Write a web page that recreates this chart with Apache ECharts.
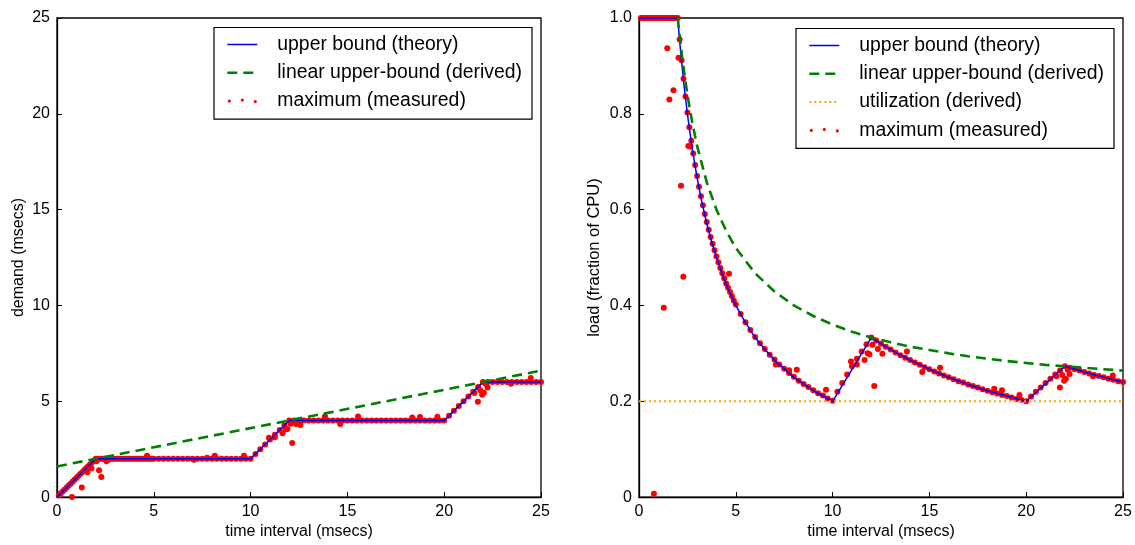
<!DOCTYPE html>
<html>
<head>
<meta charset="utf-8">
<script src="https://cdn.jsdelivr.net/npm/echarts@6/dist/echarts.min.js"></script>
<style>
  html, body { margin: 0; padding: 0; background: #fff; }
  #chart { width: 1135px; height: 545px; }
</style>
</head>
<body>
<div id="chart"></div>
<script>
// ---------- DATA ----------
// x-axis ticks (both panels)
const timeTicks = [0, 5, 10, 15, 20, 25];
const demandTicks = [0, 5, 10, 15, 20, 25];
const loadTicks = [0, 0.2, 0.4, 0.6, 0.8, 1.0];

// Left panel: upper bound (theory), demand vs time
const boundTime   = [0, 2, 10, 12, 20, 22, 25];
const boundDemand = [0, 2, 2, 4, 4, 6, 6];
// Left panel: linear upper-bound (derived)
const linearTime   = [0, 25];
const linearDemand = [1.6, 6.6];

// Right panel: upper bound (theory), load vs time
const boundLoadTime = [0, 2, 2.1, 2.2, 2.35, 2.5, 2.75, 3, 3.25, 3.5, 3.75, 4, 4.5, 5, 5.5, 6, 6.5, 7, 8, 9, 10,
  12, 13, 14, 15, 16, 17, 18, 19, 20, 22, 23, 24, 25];
const boundLoad = [1, 1, 0.952, 0.909, 0.851, 0.8, 0.727, 0.667, 0.615, 0.571, 0.533, 0.5, 0.444, 0.4, 0.364, 0.333, 0.308, 0.286, 0.25, 0.222, 0.2,
  0.333, 0.308, 0.286, 0.267, 0.25, 0.235, 0.222, 0.211, 0.2, 0.273, 0.261, 0.25, 0.24];
// Right panel: linear upper-bound (derived)
const linearLoadTime = [2, 2.25, 2.5, 2.75, 3, 3.5, 4, 4.5, 5, 6, 7, 8, 9, 10, 11, 12, 13, 14, 15, 16, 17, 18, 19, 20, 21, 22, 23, 24, 25];
const linearLoad = [1, 0.911, 0.84, 0.782, 0.733, 0.657, 0.6, 0.556, 0.52, 0.467, 0.429, 0.4, 0.378, 0.36, 0.345, 0.333,
  0.323, 0.314, 0.307, 0.3, 0.294, 0.289, 0.284, 0.28, 0.276, 0.273, 0.270, 0.267, 0.264];
// Right panel: utilization (derived)
const utilTime = [0, 25];
const utilLoad = [0.2, 0.2];

// maximum (measured): time, demand (left panel), load (right panel)
const measTime = [
  0.1, 0.2, 0.3, 0.4, 0.5, 0.6, 0.7, 0.8, 0.9, 1.0, 1.1, 1.2, 1.3, 1.4, 1.5, 1.6, 1.7, 1.8, 1.9, 2.0,
  2.1, 2.2, 2.3, 2.4, 2.5, 2.6, 2.7, 2.8, 2.9, 3.0, 3.1, 3.2, 3.3, 3.4, 3.5, 3.6, 3.7, 3.8, 3.9, 4.0,
  4.1, 4.2, 4.3, 4.4, 4.5, 4.6, 4.7, 4.8, 4.9, 5.0,
  5.25, 5.5, 5.75, 6, 6.25, 6.5, 6.75, 7, 7.25, 7.5, 7.75, 8, 8.25, 8.5, 8.75, 9, 9.25, 9.5, 9.75, 10,
  10.25, 10.5, 10.75, 11, 11.25, 11.5, 11.75, 12,
  12.25, 12.5, 12.75, 13, 13.25, 13.5, 13.75, 14, 14.25, 14.5, 14.75, 15, 15.25, 15.5, 15.75, 16,
  16.25, 16.5, 16.75, 17, 17.25, 17.5, 17.75, 18, 18.25, 18.5, 18.75, 19, 19.25, 19.5, 19.75, 20,
  20.25, 20.5, 20.75, 21, 21.25, 21.5, 21.75, 22,
  22.25, 22.5, 22.75, 23, 23.25, 23.5, 23.75, 24, 24.25, 24.5, 24.75, 25,
  0.77, 1.28, 1.46, 1.57, 1.78, 2.04, 2.17, 2.29, 2.55, 2.66, 4.65, 7.07, 7.75, 8.15, 9.66,
  10.95, 11.25, 11.65, 11.81, 11.90, 12.06, 12.34, 12.57, 12.15, 13.84, 14.63, 15.55,
  18.35, 18.75, 19.65, 21.56, 21.74, 21.86, 21.96, 22.05, 22.24, 22.15, 23.45, 24.47
];
const measDemand = [
  0.1, 0.2, 0.3, 0.4, 0.5, 0.6, 0.7, 0.8, 0.9, 1.0, 1.1, 1.2, 1.3, 1.4, 1.5, 1.6, 1.7, 1.8, 1.9, 2.0,
  2, 2, 2, 2, 2, 2, 2, 2, 2, 2, 2, 2, 2, 2, 2, 2, 2, 2, 2, 2,
  2, 2, 2, 2, 2, 2, 2, 2, 2, 2,
  2, 2, 2, 2, 2, 2, 2, 2, 2, 2, 2, 2, 2, 2, 2, 2, 2, 2, 2, 2,
  2.25, 2.5, 2.75, 3, 3.25, 3.5, 3.75, 4,
  4, 4, 4, 4, 4, 4, 4, 4, 4, 4, 4, 4, 4, 4, 4, 4,
  4, 4, 4, 4, 4, 4, 4, 4, 4, 4, 4, 4, 4, 4, 4, 4,
  4.25, 4.5, 4.75, 5, 5.25, 5.5, 5.75, 6,
  6, 6, 6, 6, 6, 6, 6, 6, 6, 6, 6, 6,
  0.005, 0.50, 1.37, 1.30, 1.51, 1.87, 1.40, 1.05, 1.87, 1.95, 2.16, 1.95, 2.05, 2.16, 2.16,
  3.10, 3.12, 3.33, 3.54, 3.55, 3.83, 3.81, 3.76, 2.82, 4.21, 3.82, 4.20,
  4.15, 4.18, 4.19, 5.43, 4.98, 5.57, 5.34, 5.45, 5.72, 5.90, 5.91, 6.21
];
const measLoad = [
  1, 1, 1, 1, 1, 1, 1, 1, 1, 1, 1, 1, 1, 1, 1, 1, 1, 1, 1, 1,
  0.955, 0.912, 0.873, 0.836, 0.803, 0.772, 0.744, 0.717, 0.693, 0.670, 0.648, 0.628, 0.609, 0.591, 0.574, 0.558, 0.543, 0.529, 0.515, 0.502,
  0.490, 0.478, 0.467, 0.457, 0.446, 0.437, 0.428, 0.419, 0.410, 0.402,
  0.382, 0.365, 0.349, 0.334, 0.321, 0.309, 0.297, 0.287, 0.277, 0.268, 0.259, 0.251, 0.243, 0.236, 0.230, 0.223, 0.217, 0.212, 0.206, 0.201,
  0.220, 0.238, 0.256, 0.273, 0.289, 0.304, 0.319, 0.333,
  0.327, 0.320, 0.314, 0.308, 0.302, 0.296, 0.291, 0.286, 0.281, 0.276, 0.271, 0.267, 0.262, 0.258, 0.254, 0.250,
  0.246, 0.242, 0.239, 0.235, 0.232, 0.229, 0.225, 0.222, 0.219, 0.216, 0.213, 0.211, 0.208, 0.205, 0.203, 0.200,
  0.210, 0.220, 0.229, 0.238, 0.247, 0.256, 0.264, 0.273,
  0.270, 0.267, 0.264, 0.261, 0.258, 0.255, 0.253, 0.250, 0.247, 0.245, 0.242, 0.240,
  0.007, 0.395, 0.937, 0.830, 0.849, 0.917, 0.650, 0.460, 0.733, 0.732, 0.466, 0.277, 0.265, 0.266, 0.224,
  0.283, 0.277, 0.286, 0.300, 0.298, 0.318, 0.309, 0.299, 0.232, 0.304, 0.261, 0.270,
  0.226, 0.223, 0.213, 0.252, 0.229, 0.255, 0.243, 0.247, 0.257, 0.266, 0.252, 0.254
];

const NAME_BOUND = 'upper bound (theory)';
const NAME_LINEAR = 'linear upper-bound (derived)';
const NAME_UTIL = 'utilization (derived)';
const NAME_MEAS = 'maximum (measured)';

// ---------- STYLES ----------
const FONT = "'Liberation Sans', Arial, Helvetica, sans-serif";
const STYLE = {
  [NAME_BOUND]:  { color: '#0000ff', width: 1.5, type: 'solid' },
  [NAME_LINEAR]: { color: '#008000', width: 2.6, type: [10, 6] },
  [NAME_UTIL]:   { color: '#ffa500', width: 2, type: [2, 3] }
};

// ---------- BUILD ----------
const zip = (xs, ys) => xs.map((x, i) => [x, ys[i]]);

function xAxisCfg(gridIndex) {
  return {
    type: 'value', gridIndex, min: timeTicks[0], max: timeTicks[timeTicks.length - 1],
    interval: timeTicks[1] - timeTicks[0],
    name: 'time interval (msecs)', nameLocation: 'middle', nameGap: 20,
    nameTextStyle: { fontFamily: FONT, fontSize: 16, color: '#000' },
    axisLine: { show: true, onZero: false, lineStyle: { color: '#000', width: 1.3 } },
    axisTick: { show: true, inside: true, length: 5, lineStyle: { color: '#000', width: 1 } },
    axisLabel: { fontFamily: FONT, fontSize: 16, color: '#000', margin: 6 },
    splitLine: { show: false }
  };
}

const dotsIcon = 'path://M0,0L0.01,0M30,14L29.99,14M0.4,7a1.6,1.6 0 1,0 3.2,0a1.6,1.6 0 1,0 -3.2,0ZM13.4,6a1.6,1.6 0 1,0 3.2,0a1.6,1.6 0 1,0 -3.2,0ZM26.4,7.5a1.6,1.6 0 1,0 3.2,0a1.6,1.6 0 1,0 -3.2,0Z';

function legendItem(n) {
  if (n === NAME_MEAS) return { name: n, icon: dotsIcon };
  const s = STYLE[n];
  return {
    name: n,
    itemStyle: { color: 'rgba(0,0,0,0)', borderWidth: 0, opacity: 0 },
    lineStyle: { color: s.color, width: s.width, type: s.type, opacity: 1 }
  };
}

function legendCfg(left, top, names) {
  return {
    orient: 'vertical', left, top,
    data: names.map(legendItem),
    itemWidth: 30, itemHeight: 14, itemGap: 8.3,
    padding: [7, 10, 8, 12],
    borderColor: '#000', borderWidth: 1.2, backgroundColor: '#fff',
    selectedMode: false,
    textStyle: { fontFamily: FONT, fontSize: 19.4, color: '#000', lineHeight: 20, padding: [0, 0, 0, 15] }
  };
}

function lineSeries(name, xi, xs, ys) {
  const s = STYLE[name];
  return {
    name, type: 'line', xAxisIndex: xi, yAxisIndex: xi, data: zip(xs, ys),
    symbol: 'none', showSymbol: false,
    lineStyle: { color: s.color, width: s.width, type: s.type },
    itemStyle: { color: s.color }, z: name === NAME_BOUND ? 3 : 4
  };
}

function measSeries(xi, ys) {
  return {
    name: NAME_MEAS, type: 'scatter', xAxisIndex: xi, yAxisIndex: xi, data: zip(measTime, ys),
    symbol: 'circle', symbolSize: 6, itemStyle: { color: '#ff0000', opacity: 1 }, z: 2
  };
}

const option = {
  animation: false,
  backgroundColor: '#fff',
  grid: [
    { left: 57, top: 18, width: 484, height: 484, show: true, borderColor: '#000', borderWidth: 1.3, backgroundColor: 'transparent' },
    { left: 639, top: 18, width: 484, height: 484, show: true, borderColor: '#000', borderWidth: 1.3, backgroundColor: 'transparent' }
  ],
  xAxis: [xAxisCfg(0), xAxisCfg(1)],
  yAxis: [
    {
      type: 'value', gridIndex: 0, min: demandTicks[0], max: demandTicks[demandTicks.length - 1],
      interval: demandTicks[1] - demandTicks[0],
      name: 'demand (msecs)', nameLocation: 'middle', nameGap: 30,
      nameTextStyle: { fontFamily: FONT, fontSize: 16, color: '#000' },
      axisLine: { show: true, onZero: false, lineStyle: { color: '#000', width: 1.3 } },
      axisTick: { show: true, inside: true, length: 5, lineStyle: { color: '#000', width: 1 } },
      axisLabel: { fontFamily: FONT, fontSize: 16, color: '#000', margin: 7 },
      splitLine: { show: false }
    },
    {
      type: 'value', gridIndex: 1, min: loadTicks[0], max: loadTicks[loadTicks.length - 1],
      interval: loadTicks[1] - loadTicks[0],
      name: 'load (fraction of CPU)', nameLocation: 'middle', nameGap: 36,
      nameTextStyle: { fontFamily: FONT, fontSize: 16.5, color: '#000' },
      axisLine: { show: true, onZero: false, lineStyle: { color: '#000', width: 1.3 } },
      axisTick: { show: true, inside: true, length: 5, lineStyle: { color: '#000', width: 1 } },
      axisLabel: {
        fontFamily: FONT, fontSize: 16, color: '#000', margin: 7,
        formatter: v => (v === 0 ? '0' : v.toFixed(1))
      },
      splitLine: { show: false }
    }
  ],
  legend: [
    legendCfg(214, 27.5, [NAME_BOUND, NAME_LINEAR, NAME_MEAS]),
    legendCfg(796, 28.5, [NAME_BOUND, NAME_LINEAR, NAME_UTIL, NAME_MEAS])
  ],
  series: [
    measSeries(0, measDemand),
    lineSeries(NAME_BOUND, 0, boundTime, boundDemand),
    lineSeries(NAME_LINEAR, 0, linearTime, linearDemand),
    measSeries(1, measLoad),
    lineSeries(NAME_BOUND, 1, boundLoadTime, boundLoad),
    lineSeries(NAME_LINEAR, 1, linearLoadTime, linearLoad),
    lineSeries(NAME_UTIL, 1, utilTime, utilLoad)
  ]
};

const chart = echarts.init(document.getElementById('chart'), null, { renderer: 'canvas' });
chart.setOption(option);
</script>
</body>
</html>
